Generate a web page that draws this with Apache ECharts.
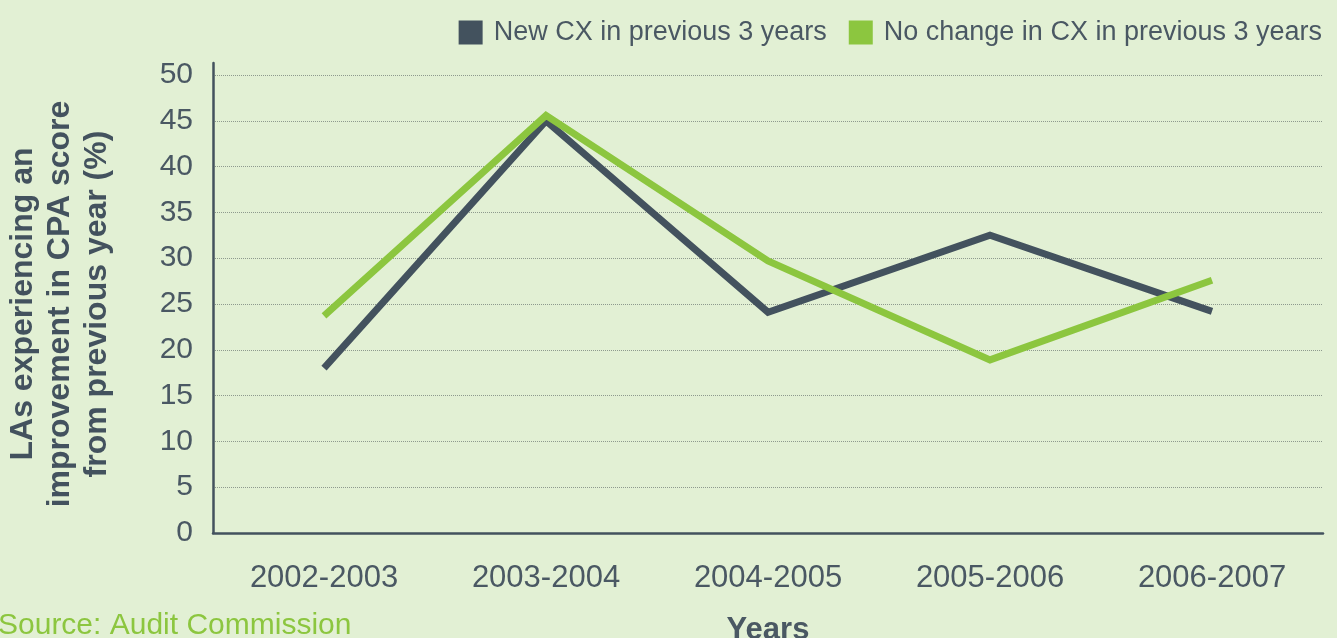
<!DOCTYPE html>
<html>
<head>
<meta charset="utf-8">
<script src="https://cdn.jsdelivr.net/npm/echarts@6/dist/echarts.min.js"></script>
<style>
html,body{margin:0;padding:0;background:#e2f0d4;}
#c{width:1337px;height:638px;}
</style>
</head>
<body>
<div id="c"></div>
<script>
const categories = ['2002-2003','2003-2004','2004-2005','2005-2006','2006-2007'];
const newCX = [18.0, 45.0, 24.1, 32.5, 24.2];
const noChangeCX = [23.7, 45.6, 29.7, 18.9, 27.6];
const seriesNames = ['New CX in previous 3 years','No change in CX in previous 3 years'];
const yTicks = {min:0, max:50, interval:5};

const dark = '#43525e';
const green = '#8cc63f';
const textColor = '#4a5863';
const font = 'Liberation Sans, Arial, sans-serif';

const chart = echarts.init(document.getElementById('c'));
chart.setOption({
  backgroundColor: '#e2f0d4',
  animation: false,
  title: {
    text: 'Source: Audit Commission',
    left: -2, top: 611,
    padding: 0,
    textStyle: {color: green, fontSize: 30, fontWeight: 'normal', fontFamily: font}
  },
  legend: {
    right: 10, top: 14,
    itemWidth: 24, itemHeight: 24, itemGap: 22,
    icon: 'rect',
    textStyle: {color: textColor, fontSize: 27, fontFamily: font, padding: [0,0,0,6]},
    data: seriesNames
  },
  grid: [
    {left: 213, right: 14, top: 75, bottom: 105, containLabel: false, outerBoundsMode: 'none'},
    {left: 213, right: 14, top: 63, bottom: 105, containLabel: false, outerBoundsMode: 'none'}
  ],
  xAxis: [{
    type: 'category',
    gridIndex: 0,
    data: categories,
    boundaryGap: true,
    axisLine: {lineStyle: {color: dark, width: 2.5}},
    axisTick: {show: false},
    axisLabel: {color: textColor, fontSize: 31, fontFamily: font, margin: 30},
    name: 'Years',
    nameLocation: 'middle',
    nameGap: 82,
    nameTextStyle: {color: textColor, fontSize: 31, fontWeight: 'bold', fontFamily: font}
  }, {
    type: 'category',
    gridIndex: 1,
    data: categories,
    show: false
  }],
  yAxis: [{
    type: 'value',
    gridIndex: 0,
    min: yTicks.min, max: yTicks.max, interval: yTicks.interval,
    axisLine: {show: false},
    axisTick: {show: false},
    axisLabel: {color: textColor, fontSize: 30, fontFamily: font, margin: 20},
    splitLine: {lineStyle: {color: '#8e9a8e', type: 'dotted', width: 1}},
    name: 'LAs experiencing an\nimprovement in CPA score\nfrom previous year (%)',
    nameLocation: 'middle',
    nameRotate: 90,
    nameGap: 97,
    nameTextStyle: {color: dark, fontSize: 32, fontWeight: 'bold', fontFamily: font, lineHeight: 37, align: 'center'}
  }, {
    type: 'value',
    gridIndex: 1,
    position: 'left',
    min: 0, max: 50,
    axisLine: {show: true, lineStyle: {color: dark, width: 2.5}},
    axisTick: {show: false},
    axisLabel: {show: false},
    splitLine: {show: false}
  }],
  series: [{
    name: seriesNames[0],
    type: 'line',
    data: newCX,
    xAxisIndex: 0,
    yAxisIndex: 0,
    symbol: 'none',
    itemStyle: {color: dark},
    lineStyle: {color: dark, width: 7, join: 'miter', cap: 'butt'}
  }, {
    name: seriesNames[1],
    type: 'line',
    data: noChangeCX,
    xAxisIndex: 0,
    yAxisIndex: 0,
    symbol: 'none',
    itemStyle: {color: green},
    lineStyle: {color: green, width: 7, join: 'miter', cap: 'butt'}
  }]
});
</script>
</body>
</html>
